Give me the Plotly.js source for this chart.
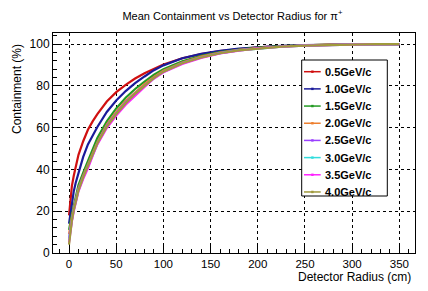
<!DOCTYPE html>
<html>
<head>
<meta charset="utf-8">
<script src="https://cdn.plot.ly/plotly-3.0.1.min.js"></script>
<style>html,body{margin:0;padding:0;background:#fff;}#chart{width:428px;height:291px;}</style>
</head>
<body>
<div id="chart"></div>
<script>
const radius = [0,1,2,3,5,7,10,15,20,25,30,40,50,60,70,80,90,100,120,140,160,180,200,225,250,275,300,325,350];
const seriesNames = ["0.5GeV/c","1.0GeV/c","1.5GeV/c","2.0GeV/c","2.5GeV/c","3.0GeV/c","3.5GeV/c","4.0GeV/c"];
const p05 = [18,24,28.5,32,37,41.5,47,53.5,59,63,66.5,72.5,77,80.5,83.5,86,88.3,90.2,93.2,95.2,96.7,97.7,98.4,99.0,99.4,99.7,99.85,99.95,100];
const p10 = [14,17.5,20.5,24,29.5,33.5,38.5,46,52,56.5,60.3,67.5,73,77.5,81.3,84.5,87.5,89.8,93.2,95.3,96.8,97.8,98.5,99.1,99.5,99.75,99.9,99.95,100];
const p15 = [11,14,16.5,18.5,22.5,27,32.5,38.5,44,49.5,55,63,69.2,74.3,78.5,82,85.3,88,91.8,94.4,96.2,97.4,98.3,99.0,99.45,99.7,99.88,99.95,100];
const p20 = [9,12,14.5,17,21.5,25.5,31,37,42.5,48,53,61.5,67.5,72.8,77,80.8,84.3,87.2,91.2,94.0,95.9,97.2,98.1,98.9,99.4,99.7,99.87,99.95,100];
const p25 = [7,10.5,13.5,16,21,25,30.5,36.5,41.5,47,52.5,60.8,66.8,72,76.3,80.2,83.8,86.8,90.9,93.7,95.7,97.1,98.0,98.85,99.35,99.65,99.86,99.95,100];
const p30 = [6,9.5,13,15.5,20.5,24.8,30,36,41,46.8,52.3,60.3,66.3,71.5,76,79.9,83.6,86.6,90.7,93.6,95.6,97.0,97.95,98.8,99.3,99.62,99.85,99.95,100];
const p35 = [5,9,12.5,15,20,24.5,29.5,35.5,40.5,46.5,52,59.8,65.8,71,75.5,79.5,83.5,86.5,90.5,93.4,95.5,96.9,97.9,98.8,99.3,99.6,99.85,99.95,100];
const p40 = [4,8.5,12.5,15.5,20.5,25,30,36.3,41.5,47,52.5,60.5,66.5,71.7,76.2,80,83.8,86.8,90.8,93.6,95.6,97.0,97.95,98.8,99.3,99.62,99.85,99.95,100];
const allSeries = [p05,p10,p15,p20,p25,p30,p35,p40];
const colors = ["#d01010","#1a1a9a","#229a22","#ee8030","#9a40ff","#33dddd","#ff22ff","#a09a3c"];
const xTicks = [0,50,100,150,200,250,300,350];
const yTicks = [0,20,40,60,80,100];

const FONT = "Liberation Sans, Arial, Helvetica, sans-serif";
const traces = allSeries.map((v,i)=>({
  x: radius, y: v, name: seriesNames[i], type: "scatter", mode: "lines",
  line: {color: colors[i], width: 2.2}, showlegend: false
}));

// Legend drawn ROOT-style inside the frame (paper coordinates)
const L = 53, T = 33, PW = 362, PH = 220;
const px2x = p => (p - L) / PW;
const px2y = p => (T + PH - p) / PH;
const shapes = [{type: "rect", xref: "paper", yref: "paper", x0: px2x(301.7), x1: px2x(387.3), y0: px2y(196), y1: px2y(60), line: {color: "#000", width: 1}, fillcolor: "#fff", layer: "above"}];
const annotations = [
  {text: "Detector Radius (cm)", xref: "paper", yref: "paper", x: px2x(413), y: px2y(277), xanchor: "right", yanchor: "middle", showarrow: false, font: {size: 12}},
  {text: "Containment (%)", xref: "paper", yref: "paper", x: px2x(17), y: px2y(42), xanchor: "center", yanchor: "top", textangle: -90, showarrow: false, font: {size: 12}}
];
seriesNames.forEach((n, i) => {
  const py = 71.7 + 17.18 * i;
  shapes.push({type: "line", xref: "paper", yref: "paper", x0: px2x(304), x1: px2x(320.7), y0: px2y(py), y1: px2y(py), line: {color: colors[i], width: 1.5}, layer: "above"});
  shapes.push({type: "rect", xref: "paper", yref: "paper", x0: px2x(311.2), x1: px2x(313.6), y0: px2y(py + 1.2), y1: px2y(py - 1.2), line: {width: 0}, fillcolor: colors[i], layer: "above"});
  annotations.push({text: "<b>" + n + "</b>", xref: "paper", yref: "paper", x: px2x(323), y: px2y(py), xanchor: "left", yanchor: "middle", showarrow: false, font: {size: 11, family: FONT}});
});

const layout = {
  width: 428, height: 291,
  margin: {l: L, r: 428 - L - PW, t: T, b: 291 - T - PH},
  paper_bgcolor: "#fff", plot_bgcolor: "#fff",
  font: {family: FONT, color: "#000", size: 12},
  title: {text: "Mean Containment vs Detector Radius for π<sup>+</sup>", x: 0.543, xref: "container", xanchor: "center", y: 0.946, yref: "container", yanchor: "middle", font: {size: 11, family: FONT}},
  showlegend: false,
  xaxis: {
    range: [-17, 366.6], tickvals: xTicks, ticktext: xTicks.map(String),
    ticks: "inside", ticklen: 8, tickcolor: "#000", showline: true, linecolor: "#000", linewidth: 1, mirror: true,
    showgrid: true, gridcolor: "#000", griddash: "dot", gridwidth: 1, zeroline: false,
    minor: {ticks: "inside", ticklen: 4, dtick: 10, tick0: 0, tickcolor: "#000", showgrid: false},
    tickfont: {size: 11.5}
  },
  yaxis: {
    range: [0, 105.3], tickvals: yTicks, ticktext: yTicks.map(String),
    ticks: "inside", ticklen: 8, tickcolor: "#000", showline: true, linecolor: "#000", linewidth: 1, mirror: true,
    showgrid: true, gridcolor: "#000", griddash: "dot", gridwidth: 1, zeroline: false,
    minor: {ticks: "inside", ticklen: 4, dtick: 4, tick0: 0, tickcolor: "#000", showgrid: false},
    tickfont: {size: 12}
  },
  shapes: shapes,
  annotations: annotations
};
Plotly.newPlot("chart", traces, layout, {displayModeBar: false, staticPlot: true});
</script>
</body>
</html>
